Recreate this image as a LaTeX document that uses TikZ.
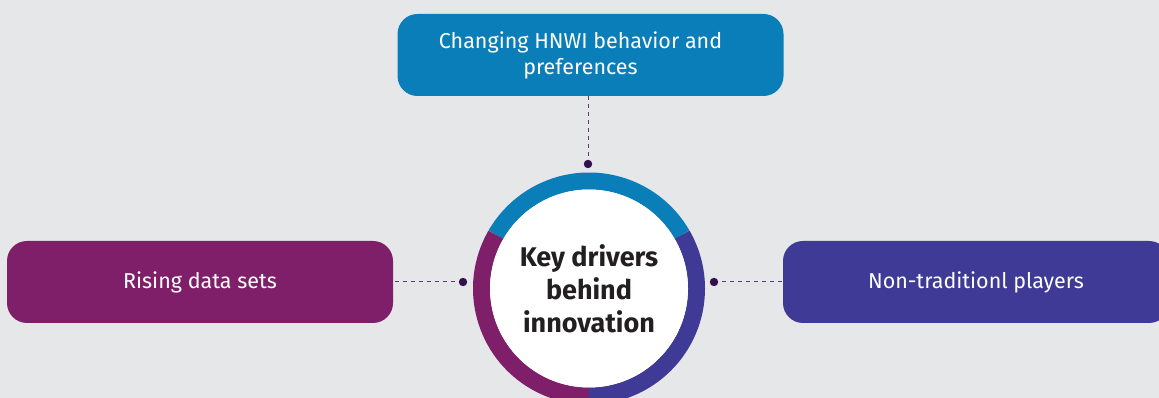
\documentclass[tikz,border=0pt]{standalone}
\usepackage{fontspec}
\setmainfont{Fira Sans}
\definecolor{bgcol}{HTML}{E6E7E9}
\definecolor{topcol}{HTML}{0A7EB8}
\definecolor{leftcol}{HTML}{7F1F69}
\definecolor{rightcol}{HTML}{3E3A96}
\definecolor{dotcol}{HTML}{33104B}
\definecolor{dashcol}{HTML}{5C3C70}
\definecolor{hubtext}{HTML}{231F20}

\begin{document}
\begin{tikzpicture}[x=1pt,y=1pt,
		box/.style={rounded corners=20pt, minimum width=386pt, minimum height=82pt, inner sep=0pt,
			text=white, align=center, font=\fontsize{21.5}{26}\selectfont},
		link/.style={dashcol, dashed, dash pattern=on 4pt off 4pt, line width=1pt},
		ring/.style={line width=17pt}]
	\useasboundingbox[fill=bgcol] (0,0) rectangle (1159,398);
	% boxes
	\node[box, fill=topcol] (change) at (590.5,343) {Changing HNWI behavior and\hspace*{20pt}\\preferences\hspace*{20pt}};
	\node[box, fill=leftcol] (data) at (200,116) {Rising data sets};
	\node[box, fill=rightcol] (players) at (976,116) {Non-traditionl players};
	% ring round the hub
	\coordinate (mid) at (589,109.5);
	\draw[ring, topcol] (mid) ++(30:107.5) arc (30:150:107.5);
	\draw[ring, leftcol] (mid) ++(150:107.5) arc (150:270:107.5);
	\draw[ring, rightcol] (mid) ++(270:107.5) arc (270:390:107.5);
	\node[circle, fill=white, minimum size=198pt, inner sep=0pt, align=center, text=hubtext,
		font=\bfseries\fontsize{27}{33}\selectfont] (hub) at (mid) {Key drivers\\behind\\innovation};
	% dots and dashed links
	\coordinate (dtop) at (588,234);
	\coordinate (dleft) at (463,116);
	\coordinate (dright) at (714,116);
	\draw[link] (dtop) -- (dtop |- change.south);
	\draw[link] (dleft) -- (data.east);
	\draw[link] (dright) -- (players.west);
	\fill[dotcol] (dtop) circle (4.2);
	\fill[dotcol] (dleft) circle (4.2);
	\fill[dotcol] (dright) circle (4.2);
\end{tikzpicture}
\end{document}
